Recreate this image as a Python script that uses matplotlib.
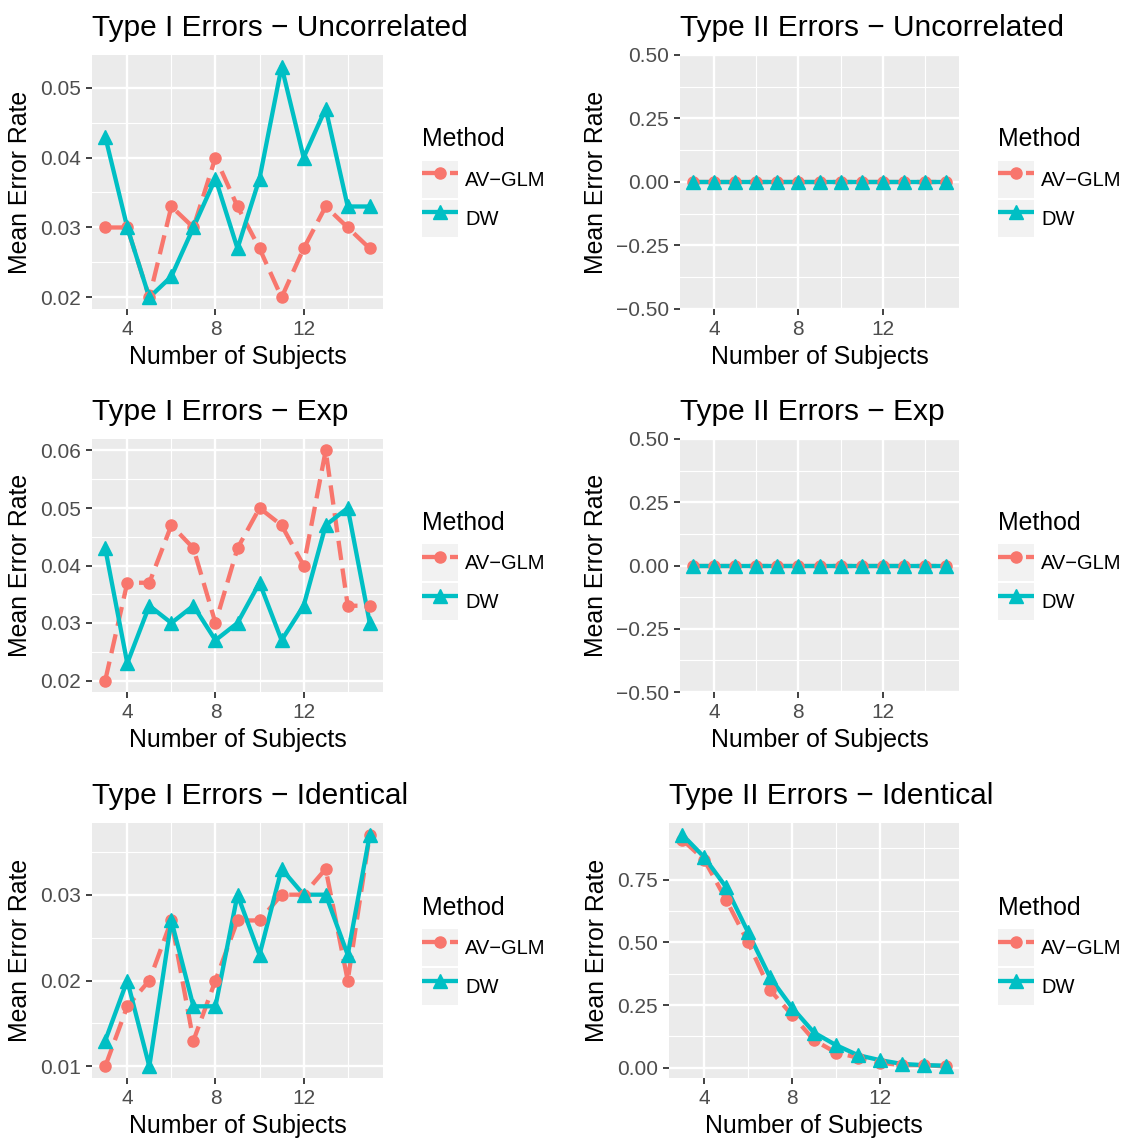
import matplotlib.pyplot as plt
from matplotlib.lines import Line2D
from matplotlib.patches import Rectangle
from matplotlib.legend_handler import HandlerLine2D

plt.rcParams['font.family'] = ['Liberation Sans', 'DejaVu Sans']

# data
subjects = [3, 4, 5, 6, 7, 8, 9, 10, 11, 12, 13, 14, 15]
methods = ["AV\u2212GLM", "DW"]

t1_uncorr_avglm = [0.030, 0.030, 0.020, 0.033, 0.030, 0.040, 0.033, 0.027, 0.020, 0.027, 0.033, 0.030, 0.027]
t1_uncorr_dw = [0.043, 0.030, 0.020, 0.023, 0.030, 0.037, 0.027, 0.037, 0.053, 0.040, 0.047, 0.033, 0.033]

t2_uncorr_avglm = [0.0, 0.0, 0.0, 0.0, 0.0, 0.0, 0.0, 0.0, 0.0, 0.0, 0.0, 0.0, 0.0]
t2_uncorr_dw = [0.0, 0.0, 0.0, 0.0, 0.0, 0.0, 0.0, 0.0, 0.0, 0.0, 0.0, 0.0, 0.0]

t1_exp_avglm = [0.020, 0.037, 0.037, 0.047, 0.043, 0.030, 0.043, 0.050, 0.047, 0.040, 0.060, 0.033, 0.033]
t1_exp_dw = [0.043, 0.023, 0.033, 0.030, 0.033, 0.027, 0.030, 0.037, 0.027, 0.033, 0.047, 0.050, 0.030]

t2_exp_avglm = [0.0, 0.0, 0.0, 0.0, 0.0, 0.0, 0.0, 0.0, 0.0, 0.0, 0.0, 0.0, 0.0]
t2_exp_dw = [0.0, 0.0, 0.0, 0.0, 0.0, 0.0, 0.0, 0.0, 0.0, 0.0, 0.0, 0.0, 0.0]

t1_ident_avglm = [0.010, 0.017, 0.020, 0.027, 0.013, 0.020, 0.027, 0.027, 0.030, 0.030, 0.033, 0.020, 0.037]
t1_ident_dw = [0.013, 0.020, 0.010, 0.027, 0.017, 0.017, 0.030, 0.023, 0.033, 0.030, 0.030, 0.023, 0.037]

t2_ident_avglm = [0.91, 0.83, 0.67, 0.50, 0.31, 0.21, 0.11, 0.06, 0.04, 0.02, 0.01, 0.01, 0.005]
t2_ident_dw = [0.93, 0.84, 0.72, 0.54, 0.36, 0.24, 0.14, 0.09, 0.05, 0.03, 0.015, 0.01, 0.008]

titles = ["Type I Errors \u2212 Uncorrelated", "Type II Errors \u2212 Uncorrelated",
          "Type I Errors \u2212 Exp", "Type II Errors \u2212 Exp",
          "Type I Errors \u2212 Identical", "Type II Errors \u2212 Identical"]
series = [(t1_uncorr_avglm, t1_uncorr_dw), (t2_uncorr_avglm, t2_uncorr_dw),
          (t1_exp_avglm, t1_exp_dw), (t2_exp_avglm, t2_exp_dw),
          (t1_ident_avglm, t1_ident_dw), (t2_ident_avglm, t2_ident_dw)]
yticks = [[0.02, 0.03, 0.04, 0.05], [-0.5, -0.25, 0.0, 0.25, 0.5],
          [0.02, 0.03, 0.04, 0.05, 0.06], [-0.5, -0.25, 0.0, 0.25, 0.5],
          [0.01, 0.02, 0.03], [0.0, 0.25, 0.5, 0.75]]

# panel boxes in pixels (left, top, right, bottom)
W, H = 1139, 1141
boxes = [(92, 55, 383, 309), (680, 55, 959, 309),
         (92, 439, 383, 692), (680, 439, 959, 692),
         (92, 823, 383, 1078), (669, 823, 959, 1078)]

red = "#F8766D"
teal = "#00BFC4"
lw = 3.1
dash = (4.5, 2)


class KeyHandler(HandlerLine2D):
    def create_artists(self, legend, orig_handle, xdescent, ydescent,
                       width, height, fontsize, trans):
        arts = super().create_artists(legend, orig_handle, xdescent, ydescent,
                                      width, height, fontsize, trans)
        bg = Rectangle((-xdescent, -ydescent), width, height,
                       facecolor="#F2F2F2", edgecolor="none", transform=trans)
        return [bg] + list(arts)


def expand(lo, hi):
    if hi - lo == 0:
        return lo - 0.5, hi + 0.5
    d = (hi - lo) * 0.05
    return lo - d, hi + d


fig = plt.figure(figsize=(W / 100, H / 100), dpi=100)

for i in range(6):
    l, t, r, b = boxes[i]
    ax = fig.add_axes([l / W, 1 - b / H, (r - l) / W, (b - t) / H])
    ax.set_facecolor("#EBEBEB")
    for s in ax.spines.values():
        s.set_visible(False)

    av, dw = series[i]
    ax.plot(subjects, av, color=red, lw=lw, dashes=dash, zorder=2)
    ax.plot(subjects, dw, color=teal, lw=lw, solid_capstyle="butt", zorder=2.1)
    ax.plot(subjects, av, 'o', color=red, ms=8, zorder=3)
    ax.plot(subjects, dw, '^', color=teal, ms=10.5, zorder=3.1)

    ax.set_xticks([4, 8, 12])
    ax.set_xticks([2, 6, 10, 14], minor=True)
    yt = yticks[i]
    ax.set_yticks(yt)
    ax.set_yticklabels([f"{v:.2f}".replace("-", "\u2212") for v in yt])
    step = yt[1] - yt[0]
    ax.set_yticks([v + step / 2 for v in [yt[0] - step] + yt], minor=True)

    ax.set_xlim(*expand(min(subjects), max(subjects)))
    ax.set_ylim(*expand(min(av + dw), max(av + dw)))

    ax.grid(which="major", color="white", lw=1.7)
    ax.grid(which="minor", color="white", lw=0.85)
    ax.set_axisbelow(True)
    ax.tick_params(which="major", length=4.4, width=1.3, color="#333333",
                   labelsize=15, labelcolor="#4D4D4D", pad=3.6)
    ax.tick_params(which="minor", length=0)

    ax.set_xlabel("Number of Subjects", fontsize=17.9, labelpad=4.5)
    ax.set_ylabel("Mean Error Rate", fontsize=17.9, labelpad=5.5)
    ax.set_title(titles[i], loc="left", fontsize=21.5, pad=14)

    handles = [Line2D([], [], color=red, lw=lw, dashes=dash, marker='o', ms=8),
               Line2D([], [], color=teal, lw=lw, solid_capstyle="butt",
                      marker='^', ms=10.5)]
    off = 1 + 39 / (r - l)
    leg = ax.legend(handles, methods, title="Method", loc="center left",
                    bbox_to_anchor=(off, 0.5), frameon=False, borderpad=0,
                    borderaxespad=0,
                    fontsize=14.5, title_fontsize=17.9, alignment="left",
                    numpoints=1, handlelength=1.8, handleheight=2.45,
                    handletextpad=0.35, labelspacing=0.1,
                    handler_map={Line2D: KeyHandler()})
    leg._legend_box.sep = 7

fig.savefig("out.png", dpi=100)
